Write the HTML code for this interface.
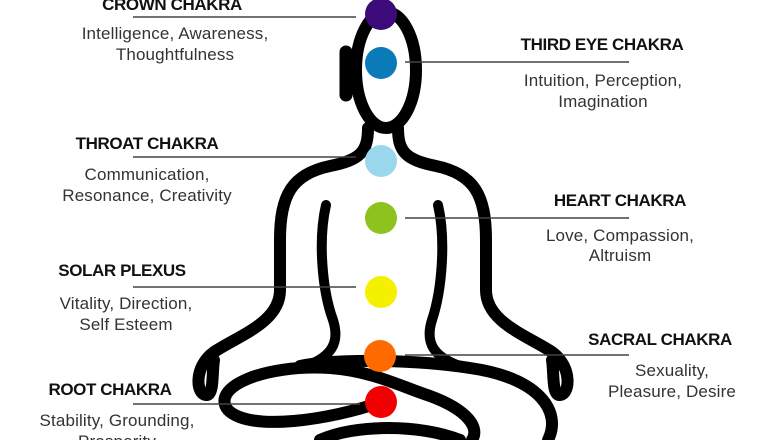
<!DOCTYPE html>
<html><head><meta charset="utf-8"><style>
html,body{margin:0;padding:0;background:#fff;}
svg{display:block;}
.t{font-family:"Liberation Sans",sans-serif;font-weight:bold;font-size:17px;fill:#111;letter-spacing:-0.4px;}
.d{font-family:"Liberation Sans",sans-serif;font-size:17px;fill:#333;letter-spacing:0.15px;}
</style></head><body>
<svg width="780" height="440" viewBox="0 0 780 440" xmlns="http://www.w3.org/2000/svg">
<g fill="none" stroke="#000" stroke-linecap="round" stroke-linejoin="round">
 <ellipse cx="386" cy="70" rx="30" ry="58" stroke-width="12"/>
 <path d="M346,52 L346,95" stroke-width="13"/>
 <path d="M368,128 C368,152 360,160 330,166 C292,174 280,195 280,240 L280,290 C280,322 240,335 214,352 C193,367 196,396 207,395 C214,394 212,372 214,360" stroke-width="12"/>
 <path d="M398,128 C398,152 406,160 436,166 C474,174 486,195 486,240 L486,290 C486,322 526,335 552,352 C573,367 570,396 559,395 C552,394 554,372 552,360" stroke-width="12"/>
 <path d="M326,205 C318,240 322,290 333,320 C340,342 333,358 300,368" stroke-width="10"/>
 <path d="M438,205 C446,240 442,290 432,320 C425,342 432,358 466,368" stroke-width="10"/>
 <path d="M300,366 C340,358 420,360 470,368 C540,378 562,412 548,440" stroke-width="12"/>
 <path d="M381,402 C330,420 250,432 228,410 C210,388 262,364 330,368 C372,371 400,386 430,396 C468,410 480,428 472,440" stroke-width="12"/>
 <path d="M320,440 C355,424 420,424 460,440" stroke-width="12"/>
</g>
<g stroke="#444" stroke-width="1.5">
 <line x1="133" y1="17" x2="356" y2="17"/>
 <line x1="405" y1="62" x2="629" y2="62"/>
 <line x1="133" y1="157" x2="356" y2="157"/>
 <line x1="405" y1="218" x2="629" y2="218"/>
 <line x1="133" y1="287" x2="356" y2="287"/>
 <line x1="405" y1="355" x2="629" y2="355"/>
 <line x1="133" y1="404" x2="360" y2="404"/>
</g>
<circle cx="381" cy="14" r="16" fill="#3d0a7a"/>
<circle cx="381" cy="63" r="16" fill="#0a7ab8"/>
<circle cx="381" cy="161" r="16" fill="#9bd7ec"/>
<circle cx="381" cy="218" r="16" fill="#8dc21f"/>
<circle cx="381" cy="292" r="16" fill="#f5ef00"/>
<circle cx="380" cy="356" r="16" fill="#ff6a00"/>
<circle cx="381" cy="402" r="16" fill="#f00000"/>
<g text-anchor="middle">
 <text class="t" x="172" y="10">CROWN CHAKRA</text>
 <text class="d" x="175" y="39">Intelligence, Awareness,</text>
 <text class="d" x="175" y="60">Thoughtfulness</text>
 <text class="t" x="602" y="50">THIRD EYE CHAKRA</text>
 <text class="d" x="603" y="86">Intuition, Perception,</text>
 <text class="d" x="603" y="107">Imagination</text>
 <text class="t" x="147" y="149">THROAT CHAKRA</text>
 <text class="d" x="147" y="180">Communication,</text>
 <text class="d" x="147" y="201">Resonance, Creativity</text>
 <text class="t" x="620" y="206">HEART CHAKRA</text>
 <text class="d" x="620" y="241">Love, Compassion,</text>
 <text class="d" x="620" y="261">Altruism</text>
 <text class="t" x="122" y="276">SOLAR PLEXUS</text>
 <text class="d" x="126" y="309">Vitality, Direction,</text>
 <text class="d" x="126" y="330">Self Esteem</text>
 <text class="t" x="660" y="345">SACRAL CHAKRA</text>
 <text class="d" x="672" y="376">Sexuality,</text>
 <text class="d" x="672" y="397">Pleasure, Desire</text>
 <text class="t" x="110" y="395">ROOT CHAKRA</text>
 <text class="d" x="117" y="426">Stability, Grounding,</text>
 <text class="d" x="117" y="447">Prosperity</text>
</g>
</svg>
</body></html>
